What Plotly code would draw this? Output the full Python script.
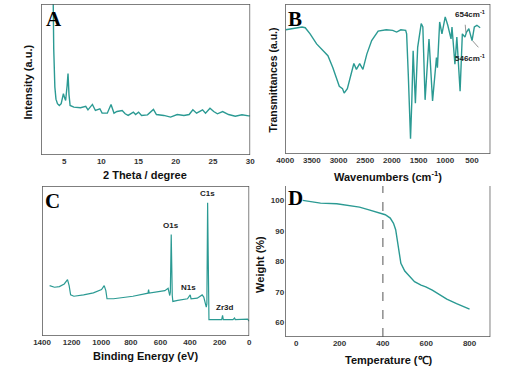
import numpy as np
import plotly.graph_objects as go

W, H = 508, 376
TEAL = "#2b9a93"
AX = "#555555"

# ---------------- Panel A: XRD ----------------
xrd_theta = [3.40, 3.50, 3.60, 3.75, 3.90, 4.10, 4.35, 4.60, 4.90, 5.05, 5.20, 5.40, 5.52, 5.65, 5.80, 6.30, 7.20,
             7.90, 8.20, 8.80, 9.20, 9.80, 10.1, 10.8, 11.3, 11.7, 12.1, 12.8, 13.2, 13.6, 14.3, 14.6, 15.0,
             15.4, 16.2, 17.0, 17.4, 18.4, 19.3, 20.2, 21.1, 21.8, 22.3, 22.8, 23.6, 24.0, 24.6, 25.1,
             25.6, 26.3, 27.1, 28.0, 28.9, 29.8, 30.0]
xrd_int = [160, 110, 70, 45, 37, 34, 32.8, 34, 40.6, 38, 36.1, 46, 53.9, 40, 32.8, 31.7, 31.3,
           32.2, 29.9, 33.5, 29.5, 30.6, 27.7, 27.7, 33.5, 27.7, 28.8, 29.5, 27.3, 26.2, 28.4, 26.8, 28.4,
           26.2, 26.6, 30.2, 26.8, 26.2, 25.1, 26.8, 26.2, 26.8, 29.9, 27.7, 29.9, 27.7, 31.0, 28.8,
           27.3, 28.8, 26.8, 25.7, 26.6, 25.9, 25.9]
xrd_ticks = [5, 10, 15, 20, 25, 30]
xrd_minor = [2.5, 7.5, 12.5, 17.5, 22.5, 27.5]

# ---------------- Panel B: FTIR ----------------
ir_wn = [3988, 3684, 3624, 3533, 3411, 3320, 3199, 3108, 3047, 2986, 2926, 2895, 2835, 2774, 2713, 2665,
         2604, 2543, 2470, 2379, 2258, 2106, 1985, 1912, 1833, 1742, 1724, 1693, 1651, 1627, 1602, 1560,
         1517, 1451, 1420, 1378, 1305, 1238, 1196, 1165, 1147, 1105, 1062, 1001, 953, 892, 874, 819,
         783, 722, 680, 631, 601, 558, 498, 455, 407, 346]
ir_T = [82.8, 84.7, 84.2, 80.1, 73.4, 70.0, 65.5, 57.6, 50.8, 45.1, 43.6, 40.6, 43.6, 53.0, 60.3, 56.4,
        60.3, 56.4, 66.6, 75.6, 81.9, 82.8, 82.4, 81.3, 82.8, 82.4, 80.1, 53.0, 10.2, 35.0, 68.8, 33.9,
        71.1, 86.9, 84.7, 36.1, 76.7, 35.4, 50.8, 64.3, 57.6, 88.0, 80.1, 91.4, 85.8, 76.7, 84.7, 59.8,
        77.9, 41.8, 80.1, 77.9, 81.3, 83.5, 75.6, 84.7, 85.8, 84.2]
ir_ticks = [4000, 3500, 3000, 2500, 2000, 1500, 1000, 500]
ir_minor = [3750, 3250, 2750, 2250, 1750, 1250, 750, 250]
ir_marks = ["654cm<sup>-1</sup>", "546cm<sup>-1</sup>"]
ir_mark_pos = [611, 501]

# ---------------- Panel C: XPS ----------------
xps_be = [1349, 1316, 1283, 1250, 1228, 1217, 1207, 1185, 1119, 1053, 998, 980, 969, 961, 917, 786,
          684, 680, 676, 570, 548, 537, 533, 527, 520, 516, 483, 417, 399, 393, 351, 329, 318, 307,
          296, 290, 286, 281, 277, 272, 241, 186, 180, 175, 110, 99, 94, 50, 11, 0]
xps_int = [34.1, 33.0, 33.4, 35.2, 38.1, 34.1, 27.8, 26.9, 27.8, 29.2, 31.4, 34.1, 30.7, 25.2, 25.2, 26.9,
           29.0, 31.4, 29.0, 30.7, 32.3, 27.4, 29.6, 68.6, 27.4, 23.4, 24.1, 25.2, 27.8, 25.2, 25.6, 26.9, 27.8, 26.3,
           22.9, 19.6, 21.8, 90.2, 54.1, 11.1, 11.1, 11.1, 14.0, 11.1, 11.1, 12.2, 11.1, 11.1, 11.4, 10.0]
xps_ticks = [1400, 1200, 1000, 800, 600, 400, 200, 0]
xps_minor = [1300, 1100, 900, 700, 500, 300, 100]
xps_labels = ["O1s", "C1s", "N1s", "Zr3d"]

# ---------------- Panel D: TGA ----------------
tga_T = [30, 60, 112, 187, 247, 292, 336, 381, 411, 434, 449, 459, 468, 475, 483, 501, 523, 546, 576,
         598, 628, 658, 695, 740, 778, 800]
tga_W = [100, 99.7, 99.1, 98.9, 98.4, 97.8, 96.9, 95.8, 95.3, 94.2, 92.5, 90.4, 86.5, 82.1, 79.4, 76.9,
         75.0, 73.4, 72.3, 71.7, 70.6, 69.2, 67.7, 66.2, 65.2, 64.4]
tga_xticks = [0, 200, 400, 600, 800]
tga_xminor = [100, 300, 500, 700]
tga_yticks = [60, 70, 80, 90, 100]
tga_mark_T = 400

# panel frames in pixels: (left, right, top, bottom) and axis ranges
FR_A, RX_A, RY_A = (33, 248, 4, 155), [1.9, 30], [0, 100]
FR_B, RX_B, RY_B = (284, 495, 4, 154), [4000, 155], [0, 100]
FR_C, RX_C, RY_C = (34, 247, 186, 336), [1400, 0], [0, 101.5]
FR_D, RX_D, RY_D = (284, 495, 186, 337), [-51, 896], [55.3, 104.7]


def px(x):
    return x / W


def py(y):
    return 1 - y / H


fig = go.Figure()
for xs, ys, xa, ya, lw in [(xrd_theta, xrd_int, "x", "y", 1.4), (ir_wn, ir_T, "x2", "y2", 1.4),
                           (xps_be, xps_int, "x3", "y3", 1.2), (tga_T, tga_W, "x4", "y4", 1.4)]:
    fig.add_trace(go.Scatter(x=xs, y=ys, mode="lines", line=dict(color=TEAL, width=lw),
                             xaxis=xa, yaxis=ya, showlegend=False, hoverinfo="skip"))

# frames and tick marks as line traces derived from the axis ranges
panels = [("x", "y", FR_A, RX_A, RY_A, xrd_ticks, xrd_minor, None, True),
          ("x2", "y2", FR_B, RX_B, RY_B, ir_ticks, ir_minor, None, True),
          ("x3", "y3", FR_C, RX_C, RY_C, xps_ticks, xps_minor, None, True),
          ("x4", "y4", FR_D, RX_D, RY_D, tga_xticks, tga_xminor, tga_yticks, False)]
for xa, ya, fr, rx, ry, major, minor, yt, closed in panels:
    if closed:
        fx = [rx[0], rx[1], rx[1], rx[0], rx[0]]
        fy = [ry[0], ry[0], ry[1], ry[1], ry[0]]
    else:
        fx = [rx[0], rx[0], rx[1], rx[1]]
        fy = [ry[1], ry[0], ry[0], ry[1]]
    fig.add_trace(go.Scatter(x=fx, y=fy, mode="lines", line=dict(color=AX, width=1.5), xaxis=xa, yaxis=ya,
                             showlegend=False, hoverinfo="skip", cliponaxis=False))
    ypp = (ry[1] - ry[0]) / (fr[3] - fr[2])   # y data units per pixel
    tx, ty = [], []
    for vals, ln in ((major, 3), (minor, 2)):
        for v in vals:
            tx += [v, v, None]
            ty += [ry[0], ry[0] - ln * ypp, None]
    if yt is not None:
        xpp = (rx[1] - rx[0]) / (fr[1] - fr[0])
        for v in yt:
            tx += [rx[0], rx[0] - 3 * xpp, None]
            ty += [v, v, None]
    fig.add_trace(go.Scatter(x=tx, y=ty, mode="lines", line=dict(color=AX, width=1), xaxis=xa, yaxis=ya,
                             showlegend=False, hoverinfo="skip", cliponaxis=False, connectgaps=False))

tickfont = dict(family="Liberation Sans", size=8, color="#333333", weight="bold")


def xax(fr, rng, ticks, anchor):
    return dict(domain=[px(fr[0]), px(fr[1])], range=rng, anchor=anchor, showgrid=False, zeroline=False,
                showline=False, ticks="", tickmode="array", tickvals=ticks, tickfont=tickfont)


def yax(fr, rng, anchor, ticks=None):
    d = dict(domain=[py(fr[3]), py(fr[2])], range=rng, anchor=anchor, showgrid=False, zeroline=False,
             showline=False, ticks="")
    if ticks is None:
        d.update(showticklabels=False)
    else:
        d.update(tickmode="array", tickvals=ticks, tickfont=tickfont)
    return d


fig.update_layout(
    width=W, height=H, margin=dict(l=0, r=0, t=0, b=0),
    paper_bgcolor="white", plot_bgcolor="white", hovermode=False,
    xaxis=xax(FR_A, RX_A, xrd_ticks, "y"), yaxis=yax(FR_A, RY_A, "x"),
    xaxis2=xax(FR_B, RX_B, ir_ticks, "y2"), yaxis2=yax(FR_B, RY_B, "x2"),
    xaxis3=xax(FR_C, RX_C, xps_ticks, "y3"), yaxis3=yax(FR_C, RY_C, "x3"),
    xaxis4=xax(FR_D, RX_D, tga_xticks, "y4"), yaxis4=yax(FR_D, RY_D, "x4", tga_yticks),
)

# dashed line at 400 C in TGA panel
fig.add_shape(type="line", xref="x4", yref="y4", x0=tga_mark_T, x1=tga_mark_T, y0=RY_D[0], y1=RY_D[1],
              line=dict(color="#555555", width=1, dash="dash"))

ann = []


def lab(text, x, y, font, angle=0):
    ann.append(dict(text=text, x=px(x), y=py(y), xref="paper", yref="paper", xanchor="center",
                    yanchor="middle", showarrow=False, font=font, textangle=angle))


titlefont = dict(family="Liberation Sans", size=11, color="#111111", weight="bold")
lab("2 Theta / degree", 140, 175, titlefont)
lab("Intensity (a.u.)", 20, 82, titlefont, -90)
lab("Wavenumbers (cm<sup>-1</sup>)", 390, 176, titlefont)
lab("Transmittances (a.u.)", 271, 80, dict(titlefont, size=10.5), -90)
lab("Binding Energy (eV)", 140, 356, titlefont)
lab("Temperature (℃)", 391, 360, titlefont)
lab("Weight (%)", 258, 264, titlefont, -90)

letfont = dict(family="Liberation Serif", size=21, color="#000000", weight="bold")
for letter, (lx, ly) in zip(["A", "B", "C", "D"], [(46, 19), (294, 19), (45, 201), (295, 198)]):
    lab(letter, lx, ly, letfont)

lblfont = dict(family="Liberation Sans", size=8, color="#222222", weight="bold")
for t, (lx, ly) in zip(xps_labels, [(167, 225), (204, 193), (185, 287), (222, 307)]):
    lab(t, lx, ly, lblfont)
for t, (lx, ly) in zip(ir_marks, [(474, 14), (474, 58)]):
    lab(t, lx, ly, lblfont)

wn_sorted = np.array(ir_wn[::-1], dtype=float)
T_sorted = np.array(ir_T[::-1], dtype=float)
for pos, (axo, ayo) in zip(ir_mark_pos, [(-1, -11), (8, 9)]):
    yv = float(np.interp(pos, wn_sorted, T_sorted))
    ann.append(dict(text=" ", x=pos, y=yv, xref="x2", yref="y2", showarrow=True, arrowhead=0,
                    arrowwidth=0.8, arrowcolor="#777777", ax=axo, ay=ayo, standoff=1, font=dict(size=1)))
fig.update_layout(annotations=ann)

fig.write_html("out.html", config={"displayModeBar": False, "staticPlot": True},
               post_script="document.body.style.margin='0px';document.body.style.overflow='hidden';")
